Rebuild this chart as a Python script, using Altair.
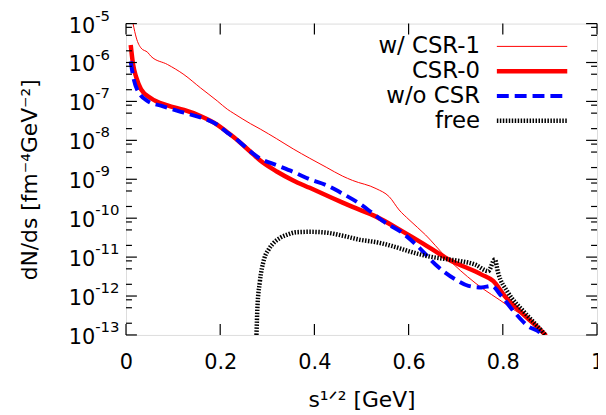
import altair as alt
import pandas as pd

# ---------------- data ----------------
X_TICKS = [0, 0.2, 0.4, 0.6, 0.8, 1.0]
Y_DECADES = [-5, -6, -7, -8, -9, -10, -11, -12, -13]
Y_MINOR_MULT = [2, 5, 8]

LEGEND_LABELS = ["w/ CSR-1", "CSR-0", "w/o CSR", "free"]

CSR1_X = [0.012, 0.015, 0.022, 0.032, 0.046, 0.053, 0.088, 0.123, 0.158, 0.194, 0.215,
          0.229, 0.264, 0.285, 0.32, 0.355, 0.39, 0.425, 0.46, 0.481, 0.531, 0.559,
          0.58, 0.601, 0.636, 0.678, 0.741, 0.811, 0.888, 0.893]
CSR1_LOGY = [-4.8, -5.0, -5.37, -5.63, -5.74, -5.84, -6.05, -6.31, -6.65, -6.99, -7.20,
             -7.31, -7.57, -7.71, -7.96, -8.22, -8.46, -8.69, -8.92, -9.03, -9.24, -9.45,
             -9.79, -10.04, -10.43, -10.98, -11.66, -12.25, -12.97, -13.05]

CSR0_X = [0.01, 0.015, 0.022, 0.032, 0.053, 0.088, 0.123, 0.159, 0.194, 0.215, 0.229,
          0.263, 0.285, 0.32, 0.355, 0.39, 0.425, 0.46, 0.481, 0.531, 0.587, 0.629,
          0.685, 0.755, 0.78, 0.804, 0.839, 0.888, 0.892]
CSR0_LOGY = [-5.55, -6.05, -6.39, -6.69, -6.92, -7.10, -7.22, -7.38, -7.60, -7.79, -7.92,
             -8.28, -8.52, -8.80, -9.03, -9.22, -9.41, -9.60, -9.71, -9.96, -10.34, -10.64,
             -11.06, -11.45, -11.62, -12.00, -12.42, -12.97, -13.02]

WOCSR_X = [0.01, 0.015, 0.025, 0.046, 0.074, 0.123, 0.158, 0.194, 0.215, 0.229, 0.285,
           0.32, 0.355, 0.39, 0.425, 0.46, 0.495, 0.52, 0.545, 0.587, 0.622, 0.657,
           0.699, 0.727, 0.755, 0.776, 0.797, 0.825, 0.853, 0.881, 0.884]
WOCSR_LOGY = [-5.97, -6.35, -6.73, -6.99, -7.11, -7.29, -7.41, -7.60, -7.80, -7.92, -8.47,
              -8.64, -8.81, -9.00, -9.15, -9.37, -9.62, -9.84, -10.07, -10.38, -10.75, -11.19,
              -11.57, -11.74, -11.78, -11.74, -12.00, -12.42, -12.77, -12.97, -13.02]

FREE_X = [0.277, 0.279, 0.284, 0.293, 0.303, 0.314, 0.328, 0.341, 0.362, 0.39, 0.425,
          0.46, 0.495, 0.537, 0.566, 0.615, 0.642, 0.685, 0.714, 0.741, 0.769, 0.783,
          0.79, 0.811, 0.846, 0.888, 0.89]
FREE_LOGY = [-13.0, -12.3, -11.65, -11.06, -10.80, -10.63, -10.50, -10.43, -10.36, -10.35, -10.37,
             -10.45, -10.55, -10.63, -10.72, -10.90, -10.98, -11.06, -11.11, -11.19, -11.36, -11.06,
             -11.40, -11.91, -12.42, -12.97, -13.0]

# ---------------- layout / style ----------------
W, H = 475, 314
FONT = "DejaVu Sans"

xscale = alt.Scale(domain=[0, 1], nice=False, zero=False)
yscale = alt.Scale(type="log", domain=[1e-13, 1e-5], nice=False)

xaxis = alt.Axis(values=X_TICKS, format="~g", domain=False, ticks=False, grid=False,
                 labelFont=FONT, labelFontSize=21, labelColor="black", labelPadding=17,
                 labelFlush=False,
                 title="s¹ᐟ² [GeV]", titleFont=FONT, titleFontSize=22, titleFontWeight="normal",
                 titleColor="black", titleY=72, titleBaseline="alphabetic")
yaxis = alt.Axis(labels=False, domain=False, ticks=False, grid=False,
                 title="dN/ds [fm⁻⁴GeV⁻²]", titleFont=FONT, titleFontSize=22,
                 titleFontWeight="normal", titleColor="black", titleAngle=270,
                 titleX=-90, titleY=H / 2, titleAlign="center", titleBaseline="alphabetic")


def series(xs, logys):
    return pd.DataFrame({"x": xs, "y": [10.0 ** v for v in logys]})


def line_layer(df, color, width, dash=None):
    kw = dict(color=color, strokeWidth=width, clip=True, interpolate="monotone")
    if dash is not None:
        kw["strokeDash"] = dash
    return alt.Chart(df).mark_line(**kw).encode(
        x=alt.X("x:Q", scale=xscale, axis=xaxis),
        y=alt.Y("y:Q", scale=yscale, axis=yaxis),
    )


STYLES = [
    ("#ff0000", 1, None),
    ("#ff0000", 4.5, None),
    ("#0000ff", 4, [12, 6]),
    ("#000000", 4.5, [1.5, 1.5]),
]

lines = [
    line_layer(series(CSR1_X, CSR1_LOGY), *STYLES[0]),
    line_layer(series(CSR0_X, CSR0_LOGY), *STYLES[1]),
    line_layer(series(WOCSR_X, WOCSR_LOGY), *STYLES[2]),
    line_layer(series(FREE_X, FREE_LOGY), *STYLES[3]),
]

# ---------------- ticks (inward, mirrored) ----------------
xt = pd.DataFrame({"xt": X_TICKS})
major = pd.DataFrame({"yt": [10.0 ** d for d in Y_DECADES]})
minor = pd.DataFrame({"yt": [m * 10.0 ** d for d in Y_DECADES[1:] for m in Y_MINOR_MULT]})

MAJ, MIN = 11, 6
tick_style = dict(color="black", strokeWidth=1.2)
ticks = [
    alt.Chart(xt).mark_rule(**tick_style).encode(
        x=alt.X("xt:Q", scale=xscale), y=alt.value(H), y2=alt.value(H - MAJ)),
    alt.Chart(xt).mark_rule(**tick_style).encode(
        x=alt.X("xt:Q", scale=xscale), y=alt.value(0), y2=alt.value(MAJ)),
    alt.Chart(major).mark_rule(**tick_style).encode(
        y=alt.Y("yt:Q", scale=yscale), x=alt.value(0), x2=alt.value(MAJ)),
    alt.Chart(major).mark_rule(**tick_style).encode(
        y=alt.Y("yt:Q", scale=yscale), x=alt.value(W - MAJ), x2=alt.value(W)),
    alt.Chart(minor).mark_rule(**tick_style).encode(
        y=alt.Y("yt:Q", scale=yscale), x=alt.value(0), x2=alt.value(MIN)),
    alt.Chart(minor).mark_rule(**tick_style).encode(
        y=alt.Y("yt:Q", scale=yscale), x=alt.value(W - MIN), x2=alt.value(W)),
]

# ---------------- y tick labels 10^n with real superscripts ----------------
ylab = pd.DataFrame({"yt": [10.0 ** d for d in Y_DECADES],
                     "base": ["10"] * len(Y_DECADES),
                     "exp": [str(d) for d in Y_DECADES]})
ylabels = [
    alt.Chart(ylab).mark_text(font=FONT, fontSize=21, align="right", baseline="middle",
                              dy=3, color="black").encode(
        y=alt.Y("yt:Q", scale=yscale), x=alt.value(-31), text="base:N"),
    alt.Chart(ylab).mark_text(font=FONT, fontSize=15, align="left", baseline="middle",
                              dy=-8, color="black").encode(
        y=alt.Y("yt:Q", scale=yscale), x=alt.value(-31), text="exp:N"),
]

# ---------------- key (text right-aligned, sample on the right) ----------------
ROW_Y = [23, 48, 73, 98]
legend = []
for i, lab in enumerate(LEGEND_LABELS):
    color, width, dash = STYLES[i]
    legend.append(
        alt.Chart(pd.DataFrame({"t": [lab]})).mark_text(
            font=FONT, fontSize=23, align="right", baseline="middle", color="black").encode(
            text="t:N", x=alt.value(357), y=alt.value(ROW_Y[i])))
    kw = dict(color=color, strokeWidth=width)
    if dash is not None:
        kw["strokeDash"] = dash
    legend.append(
        alt.Chart(pd.DataFrame({"t": [lab]})).mark_rule(**kw).encode(
            x=alt.value(374), x2=alt.value(445), y=alt.value(ROW_Y[i])))

chart = alt.layer(*lines, *ticks, *ylabels, *legend).properties(
    width=W, height=H,
    autosize=alt.AutoSizeParams(type="none"),
    padding={"left": 119, "top": 14, "right": 1, "bottom": 78},
).configure_view(stroke="black", strokeWidth=2).configure(background="white")

chart.save("out.html", embed_options={"renderer": "svg", "actions": False})
